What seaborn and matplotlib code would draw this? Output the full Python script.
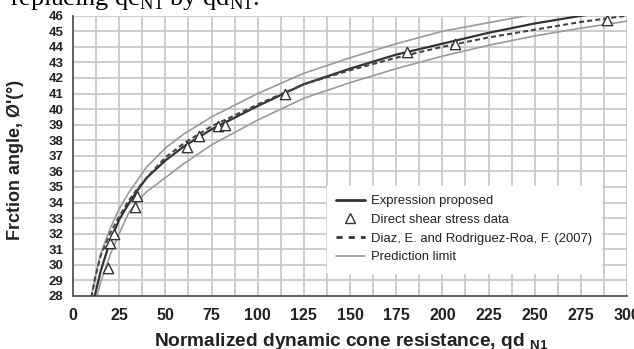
import matplotlib
matplotlib.use("Agg")
import matplotlib.pyplot as plt
import seaborn as sns
import pandas as pd
from matplotlib.lines import Line2D
from matplotlib.ticker import MultipleLocator

# ---------------- data ----------------
data_x = [19, 20, 22, 33.5, 34.5, 62, 68, 78.5, 82.3, 115, 181, 207, 289]
data_y = [29.8, 31.4, 32.0, 33.7, 34.4, 37.6, 38.3, 38.9, 38.95, 40.95, 43.7, 44.2, 45.75]

prop_x = [11.5, 13, 15, 20, 25, 30, 35, 40, 50, 60, 75, 100, 125, 150, 175, 200, 225, 250, 278]
prop_y = [27.9, 28.6, 29.6, 31.5, 32.9, 33.9, 34.8, 35.6, 36.7, 37.6, 38.7, 40.2, 41.6, 42.6, 43.5, 44.2, 44.9, 45.5, 46.05]

diaz_x = [10, 12, 15, 20, 25, 30, 35, 40, 50, 60, 75, 100, 125, 150, 175, 200, 225, 250, 275, 300]
diaz_y = [27.9, 29.2, 30.6, 32.0, 33.1, 34.1, 34.9, 35.6, 36.9, 37.8, 38.9, 40.3, 41.6, 42.5, 43.3, 44.0, 44.6, 45.1, 45.6, 46.0]

upper_x = [10, 12, 15, 20, 25, 30, 40, 50, 60, 75, 100, 125, 150, 175, 200, 225, 250]
upper_y = [28.0, 29.2, 30.7, 32.3, 33.6, 34.6, 36.3, 37.5, 38.4, 39.5, 41.0, 42.3, 43.3, 44.2, 45.0, 45.55, 46.1]

lower_x = [13, 15, 20, 25, 30, 35, 40, 50, 60, 75, 100, 125, 150, 175, 200, 225, 250, 275, 300]
lower_y = [28.0, 28.9, 30.6, 32.0, 33.3, 34.1, 34.7, 35.6, 36.5, 37.7, 39.3, 40.7, 41.7, 42.6, 43.4, 44.1, 44.7, 45.2, 45.65]

legend_labels = ["Expression proposed", "Direct shear stress data",
                 "Diaz, E. and Rodriguez-Roa, F. (2007)", "Prediction limit"]
x_ticks = [0, 25, 50, 75, 100, 125, 150, 175, 200, 225, 250, 275, 300]
y_ticks = list(range(28, 47))

# ---------------- style ----------------
sns.set_theme(style="white")
plt.rcParams["font.family"] = ["Liberation Sans", "DejaVu Sans"]
plt.rcParams["mathtext.fontset"] = "custom"
plt.rcParams["mathtext.rm"] = "Liberation Serif"
plt.rcParams["mathtext.bf"] = "Liberation Sans:bold"

fig = plt.figure(figsize=(6.34, 3.49), dpi=100)
ax = fig.add_axes([73 / 634, 1 - 296 / 349, 554 / 634, 280.3 / 349])

ax.set_xlim(0, 300)
ax.set_ylim(28, 46)

# grid
ax.xaxis.set_major_locator(MultipleLocator(25))
ax.xaxis.set_minor_locator(MultipleLocator(6.25))
ax.yaxis.set_major_locator(MultipleLocator(1))
ax.yaxis.set_minor_locator(MultipleLocator(0.5))
for gx in [i * 12.5 for i in range(1, 25)]:
    ax.axvline(gx, color="#c9c9c9", lw=1.3, zorder=0)
for gy in y_ticks[1:]:
    ax.axhline(gy, color="#c9c9c9", lw=1.3, zorder=0)

upper_df = pd.DataFrame({"x": upper_x, "y": upper_y})
lower_df = pd.DataFrame({"x": lower_x, "y": lower_y})
prop_df = pd.DataFrame({"x": prop_x, "y": prop_y})
diaz_df = pd.DataFrame({"x": diaz_x, "y": diaz_y})
pts_df = pd.DataFrame({"x": data_x, "y": data_y})

sns.lineplot(data=upper_df, x="x", y="y", ax=ax, color="#9a9a9a", lw=1.2, sort=False, zorder=2)
sns.lineplot(data=lower_df, x="x", y="y", ax=ax, color="#9a9a9a", lw=1.2, sort=False, zorder=2)
sns.lineplot(data=prop_df, x="x", y="y", ax=ax, color="#333333", lw=1.6, sort=False, zorder=3)
sns.lineplot(data=diaz_df, x="x", y="y", ax=ax, color="#444444", lw=1.5, sort=False, zorder=3,
             linestyle=(0, (2.4, 1.5)))
sns.scatterplot(data=pts_df, x="x", y="y", ax=ax, marker="^", s=55, facecolor="white",
                edgecolor="#333333", linewidth=1.0, zorder=4)

ax.set_xlim(0, 300)
ax.set_ylim(28, 46)
ax.set_xlabel("")
ax.set_ylabel("")
ax.set_xticks(x_ticks)
ax.set_yticks(y_ticks)
ax.set_xticklabels([str(t) for t in x_ticks])
ax.set_yticklabels([str(t) for t in y_ticks])

for s in ["top", "right"]:
    ax.spines[s].set_visible(False)
for s in ["left", "bottom"]:
    ax.spines[s].set_color("#555555")
    ax.spines[s].set_linewidth(1.3)

ax.tick_params(axis="x", which="major", direction="in", length=6, width=1.1, color="#555555",
               pad=9, labelsize=11.5, labelcolor="#222222")
ax.tick_params(axis="x", which="minor", direction="in", length=4, width=1.0, color="#555555")
ax.tick_params(axis="y", which="major", direction="in", length=6, width=1.1, color="#555555",
               pad=7, labelsize=9.5, labelcolor="#222222")
ax.tick_params(axis="y", which="minor", direction="in", length=3.5, width=1.0, color="#555555")
for lab in ax.get_xticklabels() + ax.get_yticklabels():
    lab.set_fontweight("bold")

# legend
handles = [
    Line2D([], [], color="#333333", lw=2.0),
    Line2D([], [], color="#444444", lw=0, marker="^", markersize=7.5, markerfacecolor="white",
           markeredgecolor="#333333", markeredgewidth=1.0),
    Line2D([], [], color="#333333", lw=2.0, linestyle=(0, (2.2, 2.2))),
    Line2D([], [], color="#9a9a9a", lw=1.2),
]
leg = ax.legend(handles, legend_labels, loc="upper left", bbox_to_anchor=(0.458, 0.392),
                borderaxespad=0, frameon=True, fancybox=False, framealpha=1,
                edgecolor="white", facecolor="white", fontsize=9.4, handlelength=2.2,
                handletextpad=0.5, labelspacing=0.5, borderpad=0.7)
for t in leg.get_texts():
    t.set_color("#222222")
leg.set_zorder(10)

# axis titles
fig.text(351 / 634, 3 / 349, r"Normalized dynamic cone resistance, qd $_{\mathbf{N1}}$",
         ha="center", va="baseline", fontsize=13.8, fontweight="bold", color="#222222")
fig.text(16 / 634, 1 - 160 / 349, "Frction angle, Ø'(°)", rotation=90, ha="center",
         va="center", fontsize=13, fontweight="bold", color="#222222")

# cropped caption line at top
fig.text(10 / 634, 1 - 5 / 349, r"replacing qc$_{\mathrm{N1}}$ by qd$_{\mathrm{N1}}$.",
         ha="left", va="baseline", fontsize=19, family="Liberation Serif", color="black")

fig.savefig("out.png", dpi=100)
